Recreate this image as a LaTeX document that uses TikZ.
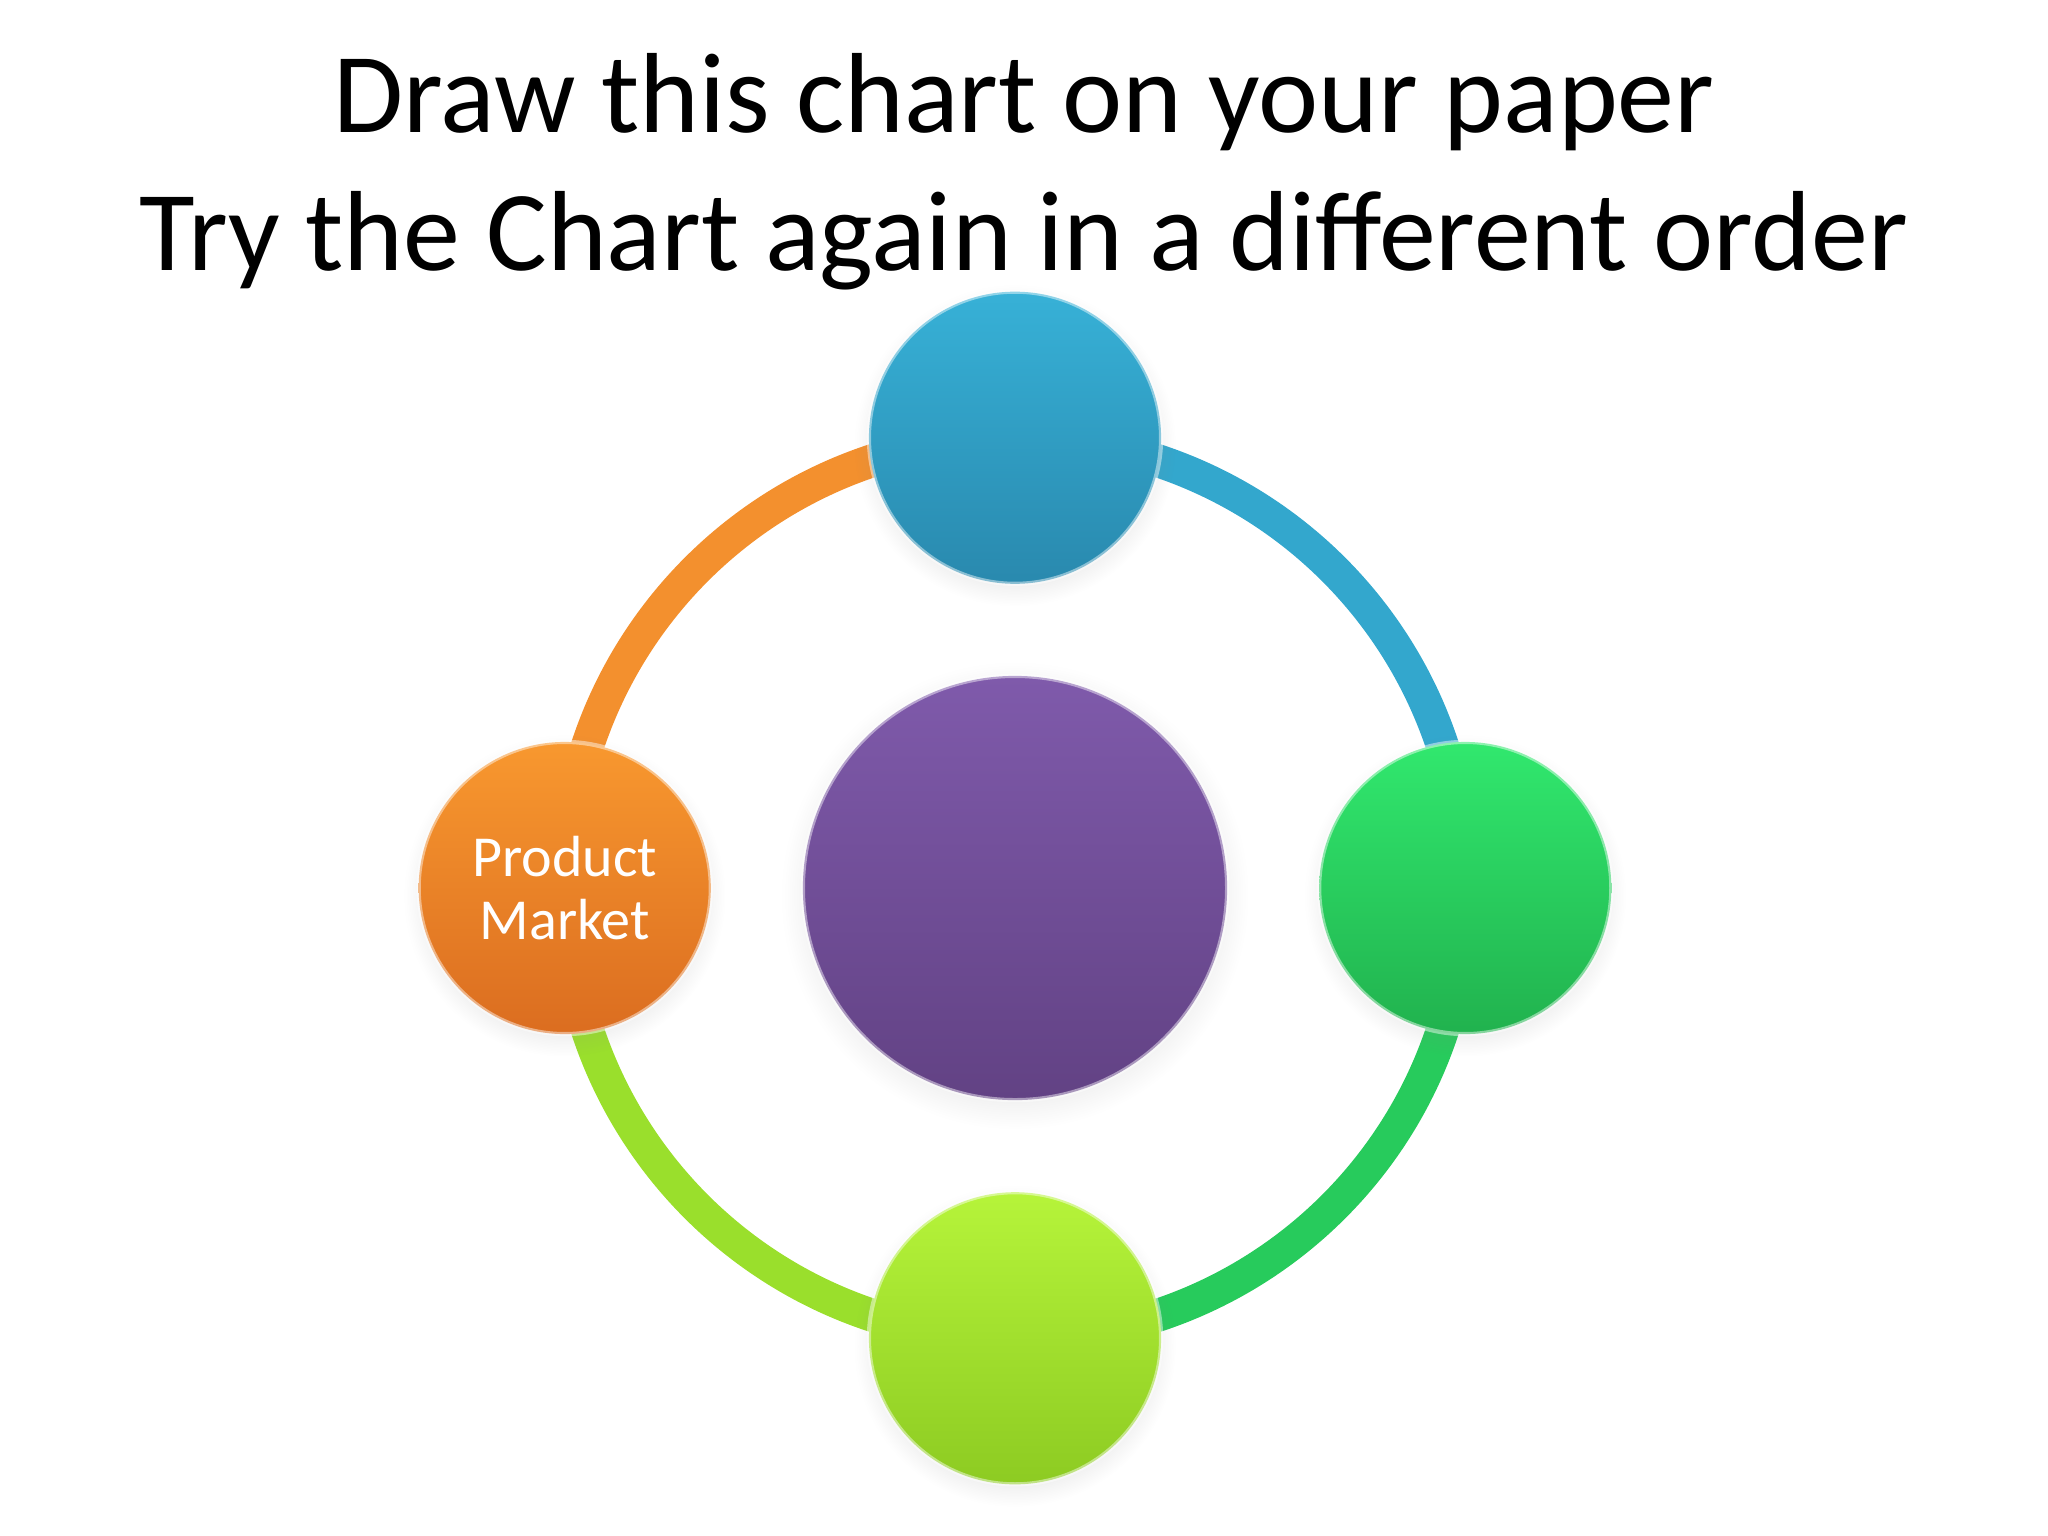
\documentclass[tikz,border=0pt]{standalone}
\usepackage{fontspec}
\setmainfont{Carlito}
\usetikzlibrary{backgrounds,shadows}

\definecolor{bluetop}{HTML}{37B1D7}
\definecolor{bluebot}{HTML}{2989AE}
\definecolor{greentop}{HTML}{31E86E}
\definecolor{greenbot}{HTML}{21B24E}
\definecolor{limetop}{HTML}{B6F43A}
\definecolor{limebot}{HTML}{8DCB22}
\definecolor{orangetop}{HTML}{F8982F}
\definecolor{orangebot}{HTML}{DB6D20}
\definecolor{purpletop}{HTML}{7F5AAB}
\definecolor{purplebot}{HTML}{624284}
\definecolor{bandblue}{HTML}{33A7CD}
\definecolor{bandgreen}{HTML}{27CB5C}
\definecolor{bandlime}{HTML}{9ADF2C}
\definecolor{bandorange}{HTML}{F3902E}

\tikzset{
  ball/.style={circle, minimum size=2.92cm, inner sep=0pt,
    top color=#1top, bottom color=#1bot,
    draw=white, draw opacity=0.45, line width=1.2pt,
    circular drop shadow={shadow xshift=0pt, shadow yshift=-2pt, opacity=0.12},
    text=white, align=center, font=\fontsize{16.5}{18}\selectfont},
  band/.style={line width=0.33cm, draw=#1},
  heading/.style={anchor=base, font=\fontsize{32.4}{40}\selectfont}
}

\begin{document}
\begin{tikzpicture}[x=0.01cm, y=-0.01cm, node distance=4.5cm]
  \useasboundingbox (0,0) rectangle (2048,1536);

  \node[heading] (title1) at (1024,132) {Draw this chart on your paper};
  \node[heading] (title2) at (1024,270) {Try the Chart again in a different order};

  \node[ball=purple, minimum size=4.24cm] (hub) at (1015,888) {};
  \node[ball=blue]   (top)    [above of=hub] {};
  \node[ball=green]  (right)  [right of=hub] {};
  \node[ball=lime]   (bottom) [below of=hub] {};
  \node[ball=orange] (left)   [left of=hub]  {Product\\Market};

  \begin{pgfonlayer}{background}
    \path
      (top.center)    edge [band=bandblue, bend left=45]   (right.center)
      (right.center)  edge [band=bandgreen, bend left=45]  (bottom.center)
      (bottom.center) edge [band=bandlime, bend left=45]   (left.center)
      (left.center)   edge [band=bandorange, bend left=45] (top.center)
      ;
  \end{pgfonlayer}
\end{tikzpicture}
\end{document}
